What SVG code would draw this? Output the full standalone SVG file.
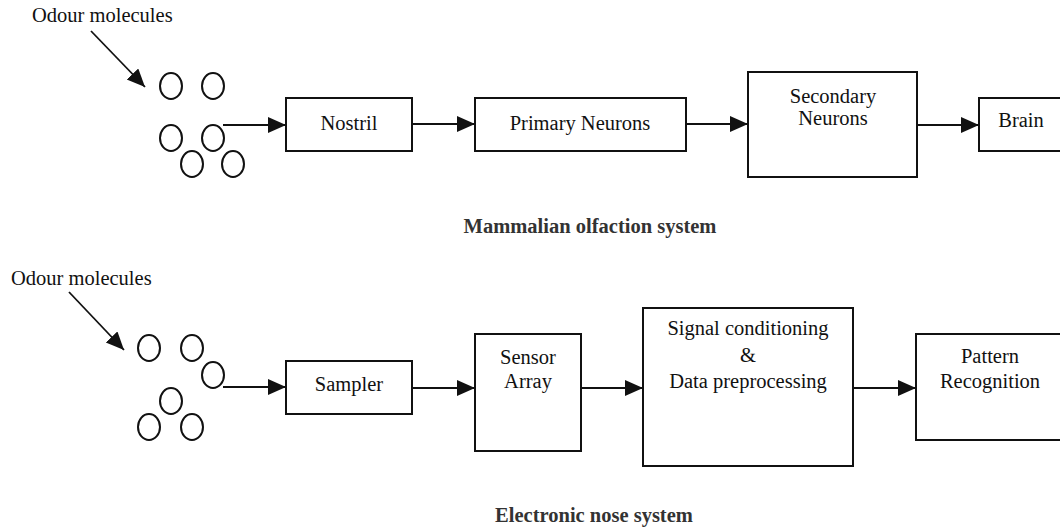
<svg xmlns="http://www.w3.org/2000/svg" width="1060" height="529" viewBox="0 0 1060 529">
<style>
.box{fill:#fff;stroke:#111;stroke-width:2}
.mol{fill:none;stroke:#111;stroke-width:2}
.lbl{font-family:"Liberation Serif","Times New Roman",serif;font-size:20.5px;fill:#111;text-anchor:middle}
.cap{font-family:"Liberation Serif","Times New Roman",serif;font-size:20.5px;font-weight:bold;fill:#333;text-anchor:middle}
.con{fill:none;stroke:#111;stroke-width:1.8;marker-end:url(#ah)}
</style>
<defs>
<marker id="ah" markerUnits="userSpaceOnUse" markerWidth="19" markerHeight="17" refX="18" refY="8" orient="auto">
<path d="M0,0 L18,8 L0,16 z" fill="#111"/>
</marker>
</defs>
<rect width="1060" height="529" fill="#fff"/>

<g id="top-molecules">
<text class="lbl" x="32" y="22" style="text-anchor:start">Odour molecules</text>
<ellipse class="mol" cx="171" cy="86" rx="11" ry="13"/>
<ellipse class="mol" cx="213" cy="86" rx="11" ry="13"/>
<ellipse class="mol" cx="171" cy="138" rx="11" ry="13"/>
<ellipse class="mol" cx="213" cy="138" rx="11" ry="13"/>
<ellipse class="mol" cx="192" cy="164" rx="11" ry="13"/>
<ellipse class="mol" cx="233" cy="164" rx="11" ry="13"/>
</g>
<g id="nostril"><rect class="box" x="286" y="98" width="126" height="53"/><text class="lbl" x="349" y="130">Nostril</text></g>
<g id="primary"><rect class="box" x="475" y="98" width="211" height="53"/><text class="lbl" x="580" y="130">Primary Neurons</text></g>
<g id="secondary"><rect class="box" x="748" y="72" width="169" height="105"/><text class="lbl" x="833" y="103">Secondary</text><text class="lbl" x="833" y="125">Neurons</text></g>
<g id="brain"><rect class="box" x="979" y="98" width="95" height="53"/><text class="lbl" x="1021" y="127">Brain</text></g>
<g id="caption-top"><text class="cap" x="590" y="233">Mammalian olfaction system</text></g>

<g id="bottom-molecules">
<text class="lbl" x="11" y="285" style="text-anchor:start">Odour molecules</text>
<ellipse class="mol" cx="149" cy="348" rx="11" ry="13"/>
<ellipse class="mol" cx="192" cy="348" rx="11" ry="13"/>
<ellipse class="mol" cx="213" cy="375" rx="11" ry="13"/>
<ellipse class="mol" cx="171" cy="401" rx="11" ry="13"/>
<ellipse class="mol" cx="149" cy="427" rx="11" ry="13"/>
<ellipse class="mol" cx="192" cy="427" rx="11" ry="13"/>
</g>
<g id="sampler"><rect class="box" x="286" y="361" width="126" height="53"/><text class="lbl" x="349" y="391">Sampler</text></g>
<g id="sensor"><rect class="box" x="475" y="334" width="106" height="117"/><text class="lbl" x="528" y="364">Sensor</text><text class="lbl" x="528" y="388">Array</text></g>
<g id="signal"><rect class="box" x="643" y="308" width="210" height="158"/><text class="lbl" x="748" y="335">Signal conditioning</text><text class="lbl" x="748" y="362">&amp;</text><text class="lbl" x="748" y="388">Data preprocessing</text></g>
<g id="pattern"><rect class="box" x="916" y="334" width="160" height="106"/><text class="lbl" x="990" y="363">Pattern</text><text class="lbl" x="990" y="388">Recognition</text></g>
<g id="caption-bottom"><text class="cap" x="594" y="522">Electronic nose system</text></g>

<g id="connectors">
<line class="con" x1="91" y1="31" x2="145" y2="87"/>
<line class="con" x1="223" y1="125" x2="286" y2="125"/>
<line class="con" x1="412" y1="124" x2="475" y2="124"/>
<line class="con" x1="686" y1="124" x2="748" y2="124"/>
<line class="con" x1="917" y1="125" x2="979" y2="125"/>
<line class="con" x1="69" y1="292" x2="124" y2="350"/>
<line class="con" x1="223" y1="387" x2="286" y2="387"/>
<line class="con" x1="412" y1="388" x2="475" y2="388"/>
<line class="con" x1="581" y1="388" x2="643" y2="388"/>
<line class="con" x1="853" y1="388" x2="916" y2="388"/>
</g>
</svg>
